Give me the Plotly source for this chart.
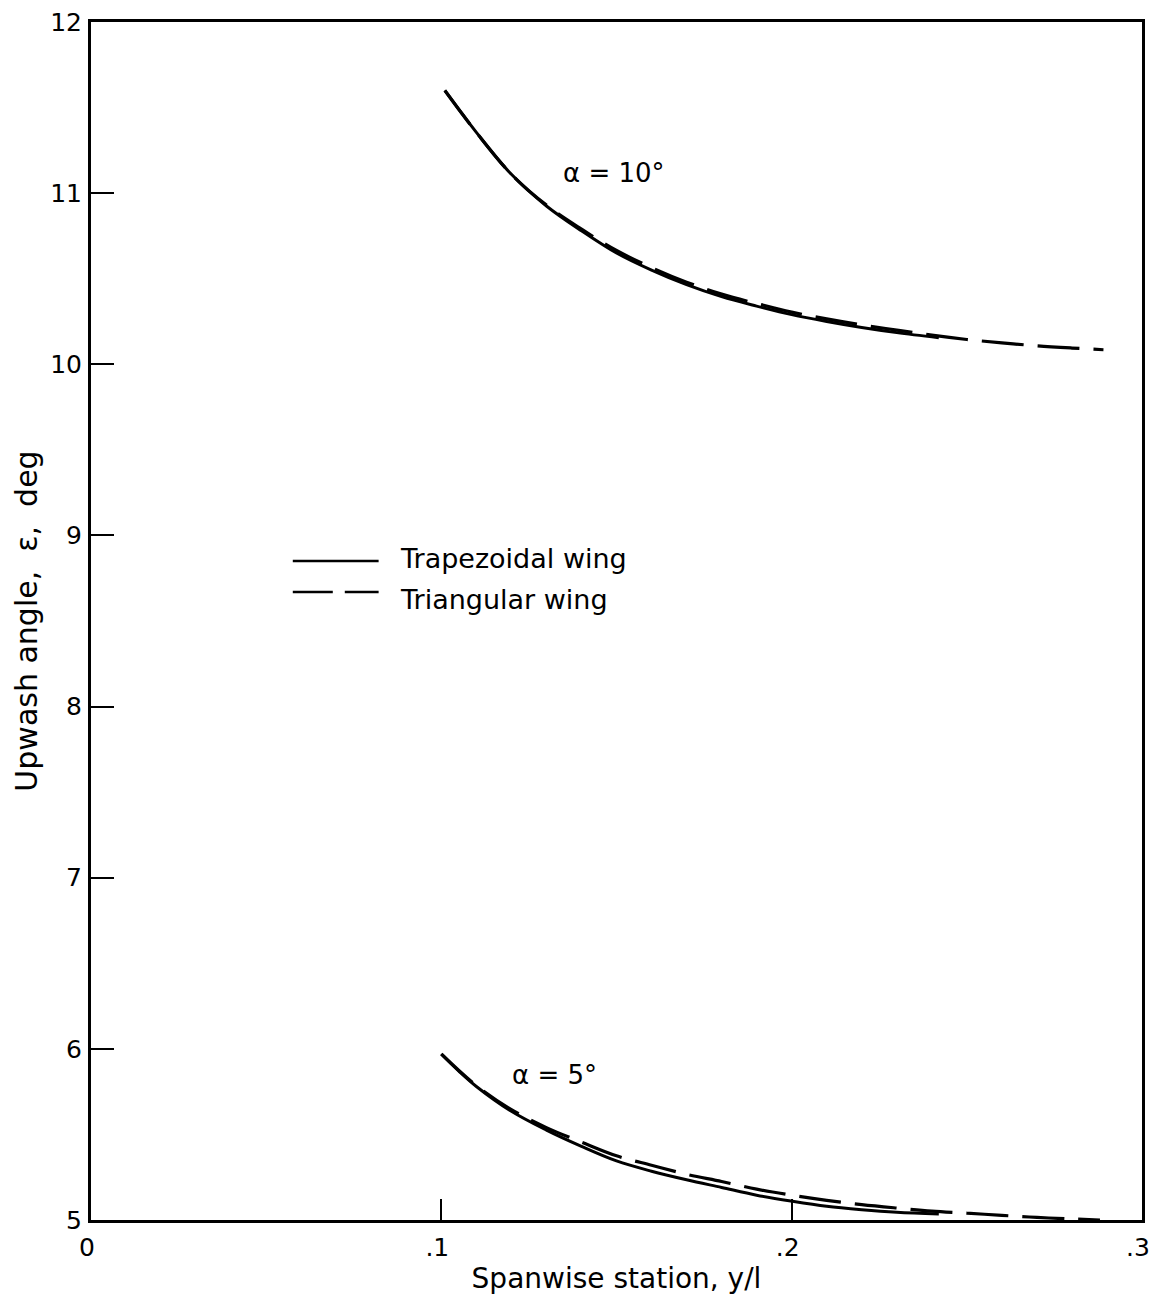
import plotly.graph_objects as go

# ---- data ----
x_trap_10 = [0.101, 0.105, 0.11, 0.12, 0.13, 0.14, 0.15, 0.16, 0.17, 0.18, 0.19, 0.20, 0.21, 0.22, 0.23, 0.242]
y_trap_10 = [11.60, 11.49, 11.355, 11.11, 10.925, 10.78, 10.65, 10.55, 10.465, 10.395, 10.34, 10.29, 10.25, 10.215, 10.185, 10.155]

x_tri_10 = [0.101, 0.11, 0.12, 0.13, 0.14, 0.15, 0.16, 0.17, 0.18, 0.19, 0.20, 0.21, 0.22, 0.23, 0.24, 0.25, 0.26, 0.27, 0.28, 0.289]
y_tri_10 = [11.60, 11.355, 11.11, 10.93, 10.79, 10.665, 10.565, 10.48, 10.41, 10.355, 10.305, 10.265, 10.23, 10.20, 10.17, 10.145, 10.125, 10.108, 10.095, 10.085]

x_trap_5 = [0.10, 0.105, 0.11, 0.12, 0.13, 0.14, 0.15, 0.16, 0.17, 0.18, 0.19, 0.20, 0.21, 0.22, 0.23, 0.242]
y_trap_5 = [5.97, 5.87, 5.78, 5.635, 5.525, 5.43, 5.345, 5.285, 5.235, 5.19, 5.145, 5.11, 5.08, 5.06, 5.045, 5.035]

x_tri_5 = [0.10, 0.11, 0.12, 0.13, 0.14, 0.15, 0.16, 0.17, 0.18, 0.19, 0.20, 0.21, 0.22, 0.23, 0.24, 0.25, 0.26, 0.27, 0.28, 0.288]
y_tri_5 = [5.97, 5.785, 5.645, 5.54, 5.455, 5.375, 5.32, 5.267, 5.225, 5.18, 5.145, 5.115, 5.09, 5.07, 5.052, 5.04, 5.027, 5.015, 5.006, 5.0]

x_tick_vals = [0, 0.1, 0.2, 0.3]
x_tick_text = ["0", ".1", ".2", ".3"]
y_tick_vals = [5, 6, 7, 8, 9, 10, 11, 12]
y_tick_text = ["5", "6", "7", "8", "9", "10", "11", "12"]

series_names = ["Trapezoidal wing", "Triangular wing"]
alpha_labels = ["α = 10°", "α = 5°"]

FONT = "DejaVu Sans"
DASH = "42px,14px"

fig = go.Figure()

solid = dict(color="black", width=3)
dashed = dict(color="black", width=3.2, dash=DASH)

fig.add_trace(go.Scatter(x=x_tri_10, y=y_tri_10, mode="lines", line=dashed, line_shape="spline",
                         name=series_names[1], showlegend=False))
fig.add_trace(go.Scatter(x=x_trap_10, y=y_trap_10, mode="lines", line=solid, line_shape="spline",
                         name=series_names[0], showlegend=False))
fig.add_trace(go.Scatter(x=x_tri_5, y=y_tri_5, mode="lines", line=dashed, line_shape="spline",
                         name=series_names[1], showlegend=False))
fig.add_trace(go.Scatter(x=x_trap_5, y=y_trap_5, mode="lines", line=solid, line_shape="spline",
                         name=series_names[0], showlegend=False))

# curve labels
fig.add_annotation(x=0.1492, y=11.12, text=alpha_labels[0], showarrow=False,
                   font=dict(family=FONT, size=26, color="black"))
fig.add_annotation(x=0.1323, y=5.85, text=alpha_labels[1], showarrow=False,
                   font=dict(family=FONT, size=26, color="black"))

# legend (drawn as key lines + text)
fig.add_shape(type="line", x0=0.0576, x1=0.0821, y0=8.85, y1=8.85, xref="x", yref="y",
              line=dict(color="black", width=2.5))
fig.add_shape(type="line", x0=0.0576, x1=0.0821, y0=8.67, y1=8.67, xref="x", yref="y",
              line=dict(color="black", width=2.5, dash="40px,12px"))
fig.add_annotation(x=0.0875, y=8.865, text=series_names[0], showarrow=False, xanchor="left",
                   font=dict(family=FONT, size=27, color="black"))
fig.add_annotation(x=0.0875, y=8.625, text=series_names[1], showarrow=False, xanchor="left",
                   font=dict(family=FONT, size=27, color="black"))

axis_common = dict(showline=True, linewidth=3, linecolor="black", mirror=True,
                   showgrid=False, zeroline=False, ticks="inside", tickwidth=2,
                   automargin=False,
                   tickcolor="black", tickfont=dict(family=FONT, size=25, color="black"))

fig.update_xaxes(range=[0, 0.3], tickvals=x_tick_vals, ticktext=x_tick_text, ticklen=21,
                 ticklabelstandoff=3, ticklabelshift=-4,
                 title=dict(text="Spanwise station, y/l", font=dict(family=FONT, size=28, color="black"),
                            standoff=8),
                 **axis_common)
fig.update_yaxes(range=[5, 12], tickvals=y_tick_vals, ticktext=y_tick_text, ticklen=23,
                 ticklabelstandoff=1,
                 title=dict(text="Upwash angle,  ε,  deg", font=dict(family=FONT, size=30, color="black"),
                            standoff=4),
                 **axis_common)

fig.update_layout(width=1152, height=1305, autosize=False,
                  margin=dict(l=91, r=10, t=22, b=85),
                  plot_bgcolor="white", paper_bgcolor="white",
                  showlegend=False)

fig.write_html("out.html",
               config=dict(responsive=False, displayModeBar=False),
               post_script="document.body.style.margin='0';document.body.style.overflow='hidden';")
